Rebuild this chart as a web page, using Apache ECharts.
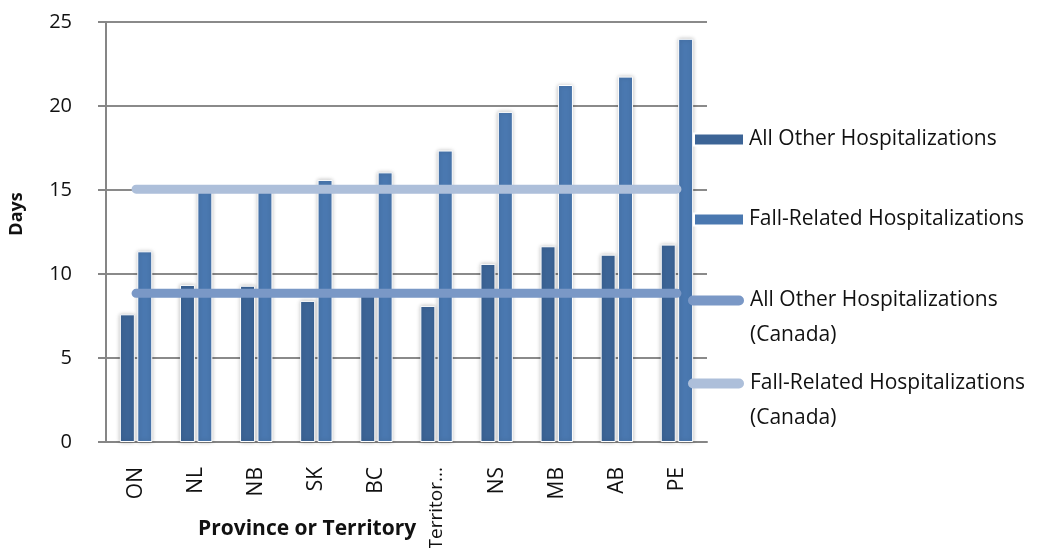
<!DOCTYPE html>
<html>
<head>
<meta charset="utf-8">
<script src="https://cdn.jsdelivr.net/npm/echarts@6/dist/echarts.min.js"></script>
<style>
  html, body { margin: 0; padding: 0; background: #fff; }
  #chart { width: 1060px; height: 548px; }
</style>
</head>
<body>
<div id="chart"></div>
<script>
// categories and values
const provinces = ['ON', 'NL', 'NB', 'SK', 'BC', 'Territories', 'NS', 'MB', 'AB', 'PE']
const allOther = [7.6, 9.35, 9.3, 8.4, 8.9, 8.1, 10.6, 11.65, 11.15, 11.75]
const fallRelated = [11.35, 15.0, 15.0, 15.6, 16.05, 17.35, 19.65, 21.25, 21.75, 24.0]
const allOtherCanada = [8.85, 8.85, 8.85, 8.85, 8.85, 8.85, 8.85, 8.85, 8.85, 8.85]
const fallCanada = [15.05, 15.05, 15.05, 15.05, 15.05, 15.05, 15.05, 15.05, 15.05, 15.05]
const yTicks = [0, 5, 10, 15, 20, 25]

const FONT = 'Open Sans'
const darkBlue = '#3c6496'
const midBlue = '#4a78b0'
const lineDark = '#7a98c6'
const lineLight = '#adbfda'
const capsule = 'path://M5,0 H51 A5,5 0 0 1 51,10 H5 A5,5 0 0 1 5,0 Z'

const chart = echarts.init(document.getElementById('chart'))

// one legend per entry so each can sit where the original puts it
function legendAt(name, icon, top, twoLines) {
  return {
    show: true,
    selectedMode: false,
    orient: 'vertical',
    left: icon === 'rect' ? 693 : 688,
    top: top,
    padding: 0,
    itemWidth: icon === 'rect' ? 50 : 58,
    itemHeight: icon === 'rect' ? 12 : 10,
    itemGap: 0,
    data: [{ name: name, icon: icon }],
    // blank first line keeps the icon level with the first text line
    formatter: n => (twoLines ? ' \n' + n.replace(' (Canada)', '\n(Canada)') : n),
    textStyle: {
      fontFamily: FONT,
      fontSize: 21,
      color: '#111',
      lineHeight: 35
    }
  }
}

chart.setOption({
  animation: false,
  title: {
    text: 'Province or Territory',
    left: 193,
    top: 514,
    textStyle: { fontFamily: FONT, fontSize: 21, fontWeight: 'bold', color: '#111' }
  },
  legend: [
    legendAt('All Other Hospitalizations', 'rect', 122, false),
    legendAt('Fall-Related Hospitalizations', 'rect', 202, false),
    legendAt('All Other Hospitalizations (Canada)', capsule, 248, true),
    legendAt('Fall-Related Hospitalizations (Canada)', capsule, 331, true)
  ],
  grid: { left: 106, right: 353, top: 22, bottom: 106, outerBoundsMode: 'none' },
  xAxis: {
    type: 'category',
    data: provinces,
    axisLine: { lineStyle: { color: '#868686', width: 2 } },
    axisTick: { show: false },
    axisLabel: {
      rotate: 90,
      margin: 25,
      fontFamily: FONT,
      fontSize: 21,
      color: '#111',
      // long names are cut short, as in the original
      formatter: v => (v.length > 8 ? '{long|' + v.slice(0, 8) + '...}' : v),
      rich: { long: { fontFamily: FONT, fontSize: 19, color: '#111' } }
    }
  },
  yAxis: {
    type: 'value',
    min: yTicks[0],
    max: yTicks[yTicks.length - 1],
    interval: 5,
    name: 'Days',
    nameLocation: 'middle',
    nameGap: 80,
    nameTextStyle: { fontFamily: FONT, fontSize: 18, fontWeight: 'bold', color: '#111', padding: [0, 0, 0, 36] },
    axisLine: { show: true, lineStyle: { color: '#868686', width: 2 } },
    axisTick: { show: true, inside: false, length: 8, lineStyle: { color: '#868686', width: 2 } },
    splitLine: { lineStyle: { color: '#8a8a8a', width: 2 } },
    axisLabel: { margin: 34, fontFamily: FONT, fontSize: 20, color: '#111' }
  },
  series: [
    {
      name: 'All Other Hospitalizations',
      type: 'bar',
      data: allOther,
      barWidth: 15,
      barGap: '16%',
      itemStyle: { color: darkBlue, borderColor: '#fff', borderWidth: 1, shadowBlur: 4, shadowColor: 'rgba(0,0,0,0.25)' }
    },
    {
      name: 'Fall-Related Hospitalizations',
      type: 'bar',
      data: fallRelated,
      barWidth: 15,
      itemStyle: { color: midBlue, borderColor: '#fff', borderWidth: 1, shadowBlur: 4, shadowColor: 'rgba(0,0,0,0.25)' }
    },
    {
      name: 'All Other Hospitalizations (Canada)',
      type: 'line',
      data: allOtherCanada,
      symbol: 'none',
      z: 5,
      lineStyle: { color: lineDark, width: 9, cap: 'round' },
      itemStyle: { color: lineDark }
    },
    {
      name: 'Fall-Related Hospitalizations (Canada)',
      type: 'line',
      data: fallCanada,
      symbol: 'none',
      z: 5,
      lineStyle: { color: lineLight, width: 9, cap: 'round' },
      itemStyle: { color: lineLight }
    }
  ]
})
</script>
</body>
</html>
